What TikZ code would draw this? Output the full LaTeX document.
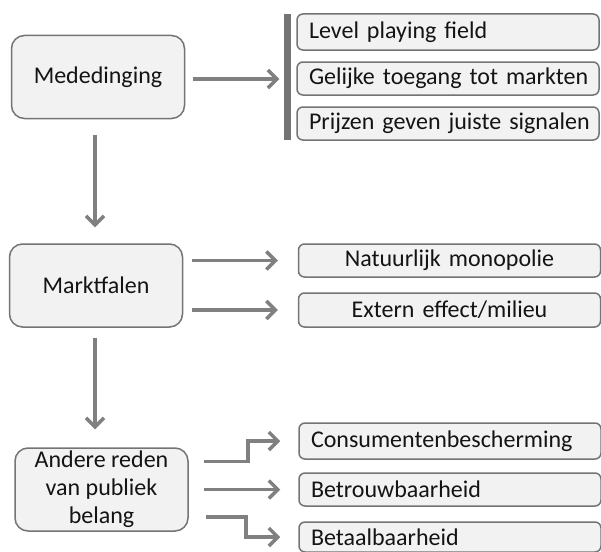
\documentclass[tikz,border=0pt]{standalone}
\usepackage{fontspec}
\setmainfont{Carlito}
\usetikzlibrary{arrows.meta,calc}
\definecolor{boxfill}{HTML}{F2F2F2}
\definecolor{boxline}{HTML}{747474}
\definecolor{arrowgray}{HTML}{808080}
\definecolor{txt}{HTML}{141414}
\begin{document}
\begin{tikzpicture}[x=1pt,y=-1pt,
  bigbox/.style={draw=boxline, line width=1.5pt, fill=boxfill, rounded corners=13pt,
    minimum width=173pt, minimum height=83pt, inner sep=0pt, align=center,
    text=txt, font=\fontsize{24}{28}\selectfont},
  lbox/.style={draw=boxline, line width=1.5pt, fill=boxfill, rounded corners=6pt,
    text width=278pt, inner xsep=12pt, inner ysep=0pt, align=left,
    text=txt, font=\fontsize{24}{28}\selectfont},
  cbox/.style={lbox, align=center},
  arr/.style={draw=arrowgray, line width=3.5pt, -{Straight Barb[length=9pt,width=18pt]}}
]
\useasboundingbox (0,0) rectangle (601,551);
\clip (0,0) rectangle (601,551);
\fill[white] (0,0) rectangle (601,551);

% left column
\node[bigbox] (med) at (98,77) {Mededinging};
\node[bigbox] (mf) at (96,285.5) {Marktfalen};
\node[bigbox] (and) at (101.5,489.5) {Andere reden\\van publiek\\belang};

% top group
\node[fill=boxline, minimum width=7pt, minimum height=126pt, inner sep=0pt] (bar) at (287,77) {};
\node[lbox, minimum height=36pt] (lev) at (448,32) {\mbox{Level playing field}};
\node[lbox, minimum height=33pt] (gel) at (448,78.5) {\mbox{Gelijke toegang tot markten}};
\node[lbox, minimum height=33pt] (prij) at (448,123.5) {\mbox{Prijzen geven juiste signalen}};

% middle group
\node[cbox, minimum height=33pt] (nat) at (449.5,260.5) {\mbox{Natuurlijk monopolie}};
\node[cbox, minimum height=34pt] (ext) at (449.5,310) {\mbox{Extern effect/milieu}};

% bottom group
\node[lbox, minimum height=36pt] (cons) at (450,441) {\mbox{Consumentenbescherming}};
\node[lbox, minimum height=33pt] (betr) at (450,489.5) {\mbox{Betrouwbaarheid}};
\node[lbox, minimum height=30pt] (beta) at (450,537) {\mbox{Betaalbaarheid}};

% connectors
\draw[arr, shorten <=8pt, shorten >=4pt] ([yshift=-2pt]med.east) -- ([yshift=-2pt]bar.west |- med.east);
\draw[arr, shorten <=16pt, shorten >=16pt] ([xshift=-3pt]med.south) -- ([xshift=-1pt]mf.north);
\draw[arr, shorten <=9pt, shorten >=20pt] (mf.east |- nat.west) -- (nat.west);
\draw[arr, shorten <=9pt, shorten >=20pt] (mf.east |- ext.west) -- (ext.west);
\draw[arr, shorten <=10pt, shorten >=18pt] ([xshift=-1pt]mf.south) -- ([xshift=-1pt]mf.south |- and.north);
\draw[arr] ([xshift=15pt,yshift=28pt]and.east) -- ++(44,0) |- ([xshift=-18pt]cons.west);
\draw[arr, shorten <=15pt, shorten >=18pt] (and.east) -- (betr.west);
\draw[arr] ([xshift=17pt,yshift=-27.5pt]and.east) -- ++(40,0) |- ([xshift=-18pt]beta.west);
\end{tikzpicture}
\end{document}
